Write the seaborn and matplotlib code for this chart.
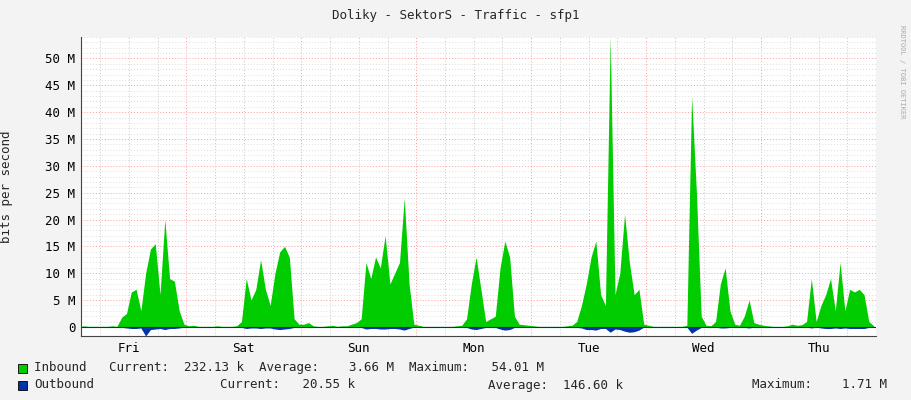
import numpy as np
import matplotlib
matplotlib.use("Agg")
import matplotlib.pyplot as plt
import seaborn as sns

days = ["Fri", "Sat", "Sun", "Mon", "Tue", "Wed", "Thu"]

# hourly inbound traffic in Mbit/s, one list per day
inbound_fri = [0, 0, 0.2, 0.1, 0.1, 0.1, 0.1, 0.1, 0.2, 0.1, 1.8, 2.5, 6.5, 7.0, 3.0, 10, 14.5, 15.5, 6, 20, 9, 8.5, 3, 0.5]
inbound_sat = [0.2, 0.3, 0.1, 0.1, 0.1, 0.1, 0.2, 0.1, 0.1, 0.1, 0.2, 1.0, 9, 5, 7, 12.5, 7, 4, 10, 14, 15, 13, 1.5, 0.5]
inbound_sun = [0.5, 0.8, 0.2, 0.1, 0.1, 0.2, 0.3, 0.1, 0.2, 0.2, 0.5, 0.8, 1.5, 12, 9, 13, 11, 17, 8, 10, 12, 24, 8, 0.5]
inbound_mon = [0.3, 0.1, 0.1, 0.1, 0.1, 0.1, 0.1, 0.1, 0.2, 0.3, 1.5, 8, 13, 7, 1, 1.5, 2, 11, 16, 13, 2, 0.5, 0.4, 0.3]
inbound_tue = [0.2, 0.1, 0.1, 0.1, 0.1, 0.1, 0.1, 0.2, 0.3, 1, 4, 8, 13, 16, 6, 4, 54, 6, 10, 21, 12, 6, 7, 0.5]
inbound_wed = [0.3, 0.1, 0.1, 0.1, 0.1, 0.1, 0.1, 0.1, 0.3, 43, 25, 2, 0.3, 0.2, 1, 8, 11, 3, 0.5, 0.3, 2, 5, 0.8, 0.5]
inbound_thu = [0.3, 0.2, 0.1, 0.1, 0.1, 0.2, 0.5, 0.3, 0.4, 1.0, 9, 1, 4, 6, 9, 3, 12, 3, 7, 6.5, 7, 6, 1, 0.23]

# hourly outbound traffic in Mbit/s (drawn below zero)
outbound_fri = [0, 0, 0.05, 0.05, 0.05, 0.05, 0.05, 0.05, 0.05, 0.05, 0.1, 0.2, 0.3, 0.3, 0.2, 1.7, 0.5, 0.4, 0.3, 0.5, 0.3, 0.3, 0.2, 0.05]
outbound_sat = [0.05, 0.05, 0.05, 0.05, 0.05, 0.05, 0.05, 0.05, 0.05, 0.05, 0.05, 0.1, 0.3, 0.2, 0.2, 0.3, 0.2, 0.2, 0.4, 0.5, 0.4, 0.3, 0.1, 0.05]
outbound_sun = [0.05, 0.05, 0.05, 0.05, 0.05, 0.05, 0.05, 0.05, 0.05, 0.05, 0.05, 0.05, 0.1, 0.4, 0.3, 0.3, 0.4, 0.4, 0.3, 0.3, 0.4, 0.6, 0.3, 0.05]
outbound_mon = [0.05, 0.05, 0.05, 0.05, 0.05, 0.05, 0.05, 0.05, 0.05, 0.05, 0.1, 0.4, 0.5, 0.3, 0.1, 0.1, 0.1, 0.4, 0.6, 0.5, 0.1, 0.05, 0.05, 0.05]
outbound_tue = [0.05, 0.05, 0.05, 0.05, 0.05, 0.05, 0.05, 0.05, 0.05, 0.1, 0.2, 0.5, 0.5, 0.6, 0.3, 0.3, 1.0, 0.4, 0.5, 0.8, 1.0, 0.9, 0.6, 0.05]
outbound_wed = [0.05, 0.05, 0.05, 0.05, 0.05, 0.05, 0.05, 0.05, 0.05, 1.2, 0.6, 0.1, 0.05, 0.05, 0.05, 0.2, 0.2, 0.1, 0.05, 0.05, 0.1, 0.2, 0.05, 0.05]
outbound_thu = [0.05, 0.05, 0.05, 0.05, 0.05, 0.05, 0.05, 0.05, 0.05, 0.05, 0.2, 0.05, 0.2, 0.3, 0.3, 0.2, 0.3, 0.2, 0.3, 0.3, 0.3, 0.3, 0.1, 0.02]

inbound = np.array(inbound_fri + inbound_sat + inbound_sun + inbound_mon + inbound_tue + inbound_wed + inbound_thu)
outbound = np.array(outbound_fri + outbound_sat + outbound_sun + outbound_mon + outbound_tue + outbound_wed + outbound_thu)
hours = np.arange(len(inbound)) + 0.5

sns.set_style("white")
plt.rcParams["font.family"] = ["DejaVu Sans Mono"]
fs = 9

fig = plt.figure(figsize=(9.11, 4), dpi=100, facecolor="#f3f3f3")
ax = fig.add_axes([81 / 911, 64 / 400, 795 / 911, 299 / 400])
ax.set_facecolor("white")

# grid
for h in range(0, 169, 6):
    col = "#ff9999" if h % 24 == 0 else "#c8c8c8"
    ax.axvline(h, color=col, lw=0.7, ls=(0, (1, 2)), zorder=0)
for m in range(1, 55):
    col = "#ff9999" if m % 5 == 0 else "#dddddd"
    ax.axhline(m, color=col, lw=0.7, ls=(0, (1, 2)), zorder=0)

ax.fill_between(hours, inbound, color="#00cc00", lw=0, zorder=2)
ax.fill_between(hours, -outbound, color="#0033aa", lw=0, zorder=3)
ax.axhline(0, color="#002a97", lw=0.8, zorder=4)

ax.set_xlim(2, 168)
ax.set_ylim(-1.7, 54)
ax.set_xticks(np.arange(12, 168, 24))
ax.set_xticklabels(days)
yt = np.arange(0, 51, 5)
ax.set_yticks(yt)
ax.set_yticklabels(["0"] + [f"{v} M" for v in yt[1:]])
ax.tick_params(length=0, labelsize=fs, colors="black", pad=4)
for s in ["top", "right"]:
    ax.spines[s].set_visible(False)
ax.spines["left"].set_color("#444444")
ax.spines["bottom"].set_color("#444444")
ax.set_ylabel("bits per second", fontsize=fs)
ax.yaxis.set_label_coords(-0.085, 0.5)

fig.text(0.5, 0.962, "Doliky - SektorS - Traffic - sfp1", ha="center", va="center", fontsize=fs)
fig.text(0.99, 0.82, "RRDTOOL / TOBI OETIKER", rotation=270, ha="center", va="center", fontsize=5, color="#aaaaaa")

fig.patches.append(plt.Rectangle((18 / 911, 1 - 373 / 400), 9 / 911, 9 / 400, transform=fig.transFigure, fc="#00cc00", ec="black", lw=0.6))
fig.patches.append(plt.Rectangle((18 / 911, 1 - 390 / 400), 9 / 911, 9 / 400, transform=fig.transFigure, fc="#0033aa", ec="black", lw=0.6))
fig.text(34 / 911, 1 - 368 / 400, "Inbound   Current:  232.13 k  Average:    3.66 M  Maximum:   54.01 M", va="center", fontsize=fs)
fig.text(34 / 911, 1 - 385 / 400, "Outbound", va="center", fontsize=fs)
fig.text(220 / 911, 1 - 385 / 400, "Current:   20.55 k", va="center", fontsize=fs)
fig.text(488 / 911, 1 - 385 / 400, "Average:  146.60 k", va="center", fontsize=fs)
fig.text(752 / 911, 1 - 385 / 400, "Maximum:    1.71 M", va="center", fontsize=fs)

fig.savefig("out.png", dpi=100, facecolor=fig.get_facecolor())
